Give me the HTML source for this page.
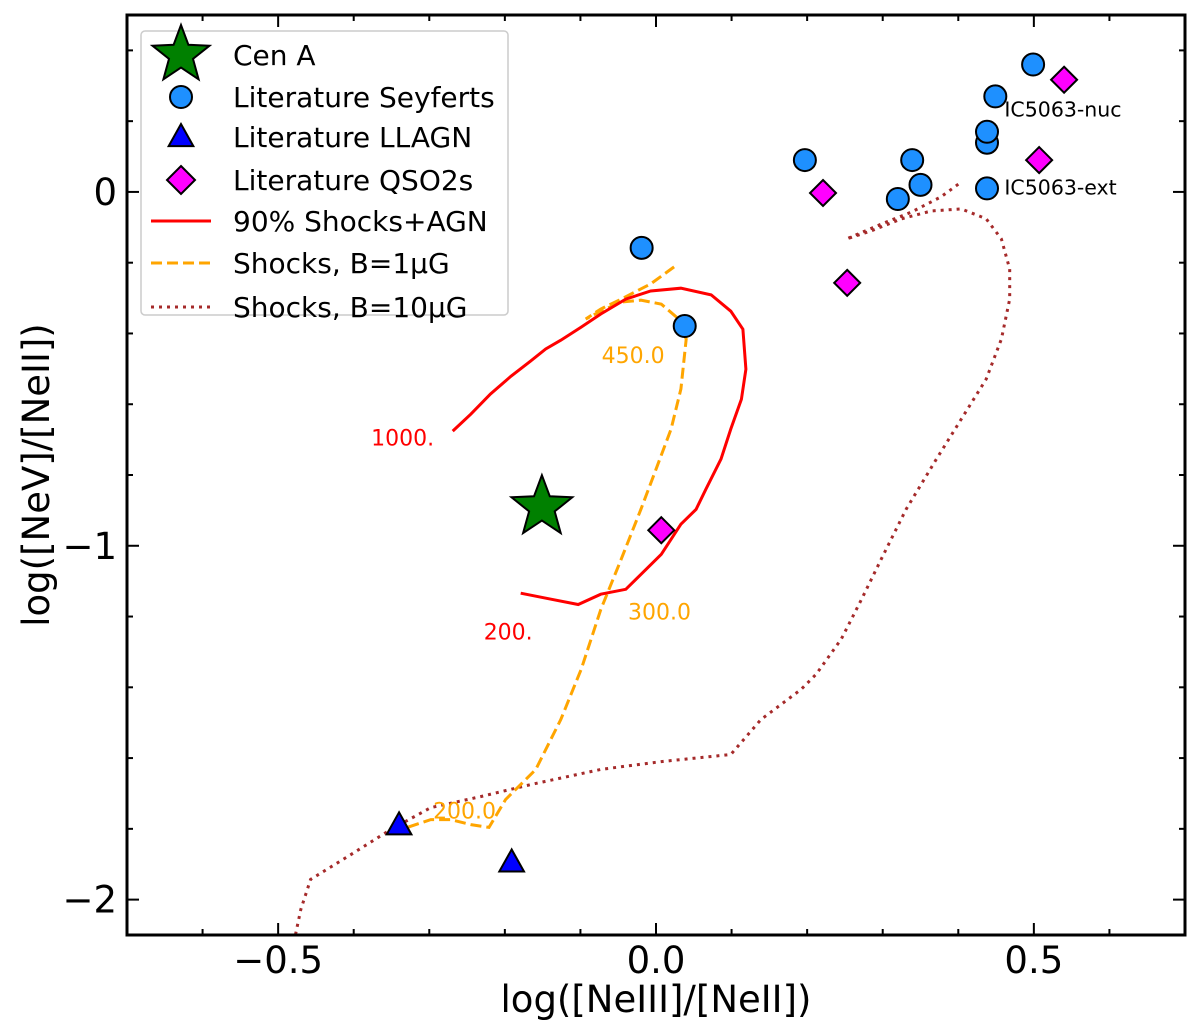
<!DOCTYPE html>
<html><head><meta charset="utf-8"><style>
html,body{margin:0;padding:0;background:#fff;}
svg{display:block;font-family:"DejaVu Sans","Liberation Sans",sans-serif;}
</style></head><body>
<svg id="chart" width="1200" height="1031" viewBox="0 0 1200 1031"></svg>
<script>
const xDomain=[-0.7,0.7], yDomain=[-2.1,0.5];
const xTicks=[-0.5,0.0,0.5], xTickLabels=["\u22120.5","0.0","0.5"];
const yTicks=[0,-1,-2], yTickLabels=["0","\u22121","\u22122"];
const seyfertX=[-0.019,0.038,0.197,0.32,0.339,0.35,0.438,0.438,0.449,0.499,0.438];
const seyfertY=[-0.158,-0.379,0.09,-0.02,0.09,0.02,0.139,0.17,0.27,0.36,0.01];
const qsoX=[0.221,0.253,0.007,0.507,0.54];
const qsoY=[-0.003,-0.257,-0.956,0.09,0.317];
const llagnX=[-0.34,-0.191];
const llagnY=[-1.79,-1.895];
const cenAX=[-0.151], cenAY=[-0.891];
const redX=[-0.269,-0.245,-0.219,-0.192,-0.166,-0.146,-0.126,-0.099,-0.073,-0.040,-0.007,0.033,0.073,0.099,0.115,0.119,0.113,0.099,0.086,0.066,0.053,0.033,0.007,-0.020,-0.040,-0.073,-0.103,-0.139,-0.179];
const redY=[-0.676,-0.628,-0.571,-0.521,-0.478,-0.444,-0.419,-0.382,-0.345,-0.303,-0.280,-0.272,-0.291,-0.337,-0.388,-0.501,-0.586,-0.670,-0.755,-0.840,-0.897,-0.939,-1.024,-1.081,-1.123,-1.137,-1.166,-1.151,-1.134];
const orX=[0.024,-0.007,-0.046,-0.073,-0.093,-0.073,-0.046,-0.020,0.007,0.030,0.040,0.033,0.020,0,-0.020,-0.046,-0.073,-0.099,-0.126,-0.159,-0.199,-0.221,-0.245,-0.272,-0.298,-0.338];
const orY=[-0.212,-0.260,-0.303,-0.331,-0.359,-0.337,-0.311,-0.306,-0.317,-0.359,-0.416,-0.557,-0.670,-0.784,-0.897,-1.038,-1.180,-1.349,-1.491,-1.632,-1.717,-1.796,-1.788,-1.774,-1.774,-1.802];
const brX=[-0.477,-0.470,-0.457,-0.404,-0.351,-0.298,-0.232,-0.166,-0.073,0.007,0.099,0.139,0.192,0.212,0.245,0.272,0.298,0.331,0.371,0.404,0.437,0.457,0.468,0.468,0.457,0.437,0.404,0.364,0.325,0.285,0.252,0.298,0.338,0.377,0.404];
const brY=[-2.099,-2.028,-1.943,-1.873,-1.802,-1.740,-1.709,-1.675,-1.632,-1.610,-1.590,-1.491,-1.406,-1.363,-1.264,-1.151,-1.038,-0.897,-0.755,-0.642,-0.529,-0.416,-0.303,-0.218,-0.133,-0.076,-0.048,-0.054,-0.076,-0.110,-0.133,-0.091,-0.057,-0.014,0.028];
const annText=["1000.","200.","450.0","300.0","200.0","IC5063-nuc","IC5063-ext"];
const annX=[-0.377,-0.228,-0.072,-0.037,-0.295,0.461,0.461];
const annY=[-0.70,-1.248,-0.467,-1.191,-1.754,0.23,0.01];
const annColor=["#ff0000","#ff0000","#ffa500","#ffa500","#ffa500","#000","#000"];
const annSize=[22,22,22,22,22,20.5,20.5];

const L=127,R=1185,T=15,B=935;
const sx=v=>L+(v-xDomain[0])/(xDomain[1]-xDomain[0])*(R-L);
const sy=v=>B-(v-yDomain[0])/(yDomain[1]-yDomain[0])*(B-T);
const svg=document.getElementById('chart');
const NS="http://www.w3.org/2000/svg";
function mk(tag,attrs,parent){const e=document.createElementNS(NS,tag);for(const k in attrs)e.setAttribute(k,attrs[k]);(parent||svg).appendChild(e);return e;}

const defs=mk('defs',{});const cp=mk('clipPath',{id:'pc'},defs);mk('rect',{x:L,y:T,width:R-L,height:B-T},cp);

function line(xs,ys,color,dash,name,w){
  let d=xs.map((x,i)=>(i?'L':'M')+sx(x).toFixed(1)+','+sy(ys[i]).toFixed(1)).join('');
  const p=mk('path',{d:d,fill:'none',stroke:color,'stroke-width':w||3,'stroke-dasharray':dash||'none','clip-path':'url(#pc)'});
  
  
}
line(brX,brY,'#a52a2a','3,5','shocks-b10-line');
line(orX,orY,'#ffa500','11,5','shocks-b1-line');
line(redX,redY,'#ff0000',null,'shocks-agn-line');

function star(cx,cy,r){let pts=[];for(let i=0;i<10;i++){const a=-Math.PI/2+i*Math.PI/5;const rr=i%2?r*0.42:r;pts.push((cx+rr*Math.cos(a)).toFixed(1)+','+(cy+rr*Math.sin(a)).toFixed(1));}return pts.join(' ');}
function tri(cx,cy,s){return `${cx},${cy-s} ${cx-s*0.95},${cy+s*0.7} ${cx+s*0.95},${cy+s*0.7}`;}
function dia(cx,cy,s){return `${cx},${cy-s} ${cx+s},${cy} ${cx},${cy+s} ${cx-s},${cy}`;}

seyfertX.forEach((x,i)=>{const c=mk('circle',{cx:sx(x),cy:sy(seyfertY[i]),r:11,fill:'#1e90ff',stroke:'#000','stroke-width':2});

});
qsoX.forEach((x,i)=>{const c=mk('polygon',{points:dia(sx(x),sy(qsoY[i]),13),fill:'#ff00ff',stroke:'#000','stroke-width':2});

});
llagnX.forEach((x,i)=>{const c=mk('polygon',{points:tri(sx(x),sy(llagnY[i]),13),fill:'#0000ff',stroke:'#000','stroke-width':2});

});
cenAX.forEach((x,i)=>{const c=mk('polygon',{points:star(sx(x),sy(cenAY[i]),32),fill:'#008000',stroke:'#000','stroke-width':2});

});

annText.forEach((t,i)=>{const e=mk('text',{x:sx(annX[i]),y:sy(annY[i]),fill:annColor[i],'font-size':annSize[i],'dominant-baseline':'middle'});e.textContent=t;

});

const fr=mk('rect',{x:L,y:T,width:R-L,height:B-T,fill:'none',stroke:'#000','stroke-width':3});


for(let v=-0.7;v<=0.701;v+=0.1){const X=sx(v);const major=xTicks.some(t=>Math.abs(t-v)<1e-6);const len=major?12:6;
 mk('line',{x1:X,x2:X,y1:B,y2:B-len,stroke:'#000','stroke-width':2});mk('line',{x1:X,x2:X,y1:T,y2:T+len,stroke:'#000','stroke-width':2});}
for(let v=-2.0;v<=0.401;v+=0.2){const Y=sy(v);const major=yTicks.some(t=>Math.abs(t-v)<1e-6);const len=major?12:6;
 mk('line',{x1:L,x2:L+len,y1:Y,y2:Y,stroke:'#000','stroke-width':2});mk('line',{x1:R,x2:R-len,y1:Y,y2:Y,stroke:'#000','stroke-width':2});}
xTicks.forEach((v,i)=>{const e=mk('text',{x:sx(v),y:B+38,'font-size':37,'text-anchor':'middle'});e.textContent=xTickLabels[i];

});
yTicks.forEach((v,i)=>{const e=mk('text',{x:L-10,y:sy(v)+13,'font-size':37,'text-anchor':'end'});e.textContent=yTickLabels[i];

});
const xt=mk('text',{x:(L+R)/2,y:1012,'font-size':37,'text-anchor':'middle'});xt.textContent='log([NeIII]/[NeII])';


const yt=mk('text',{x:0,y:0,'font-size':37,'text-anchor':'middle',transform:`translate(49,${(T+B)/2}) rotate(-90)`});yt.textContent='log([NeV]/[NeII])';



const lg=mk('g',{});


mk('rect',{x:141,y:31,width:367,height:284,rx:4,fill:'#fff',stroke:'#ccc','stroke-width':1.5},lg);
const legText=["Cen A","Literature Seyferts","Literature LLAGN","Literature QSO2s","90% Shocks+AGN","Shocks, B=1\u03bcG","Shocks, B=10\u03bcG"];
const legY=[55,97,137,180,221,263,307];
legText.forEach((t,i)=>{const e=mk('text',{x:233,y:legY[i]+10,'font-size':28},lg);e.textContent=t;

});
mk('polygon',{points:star(181,legY[0],30),fill:'#008000',stroke:'#000','stroke-width':2},lg);
mk('circle',{cx:181,cy:legY[1],r:11,fill:'#1e90ff',stroke:'#000','stroke-width':2},lg);
mk('polygon',{points:tri(181,legY[2],13),fill:'#0000ff',stroke:'#000','stroke-width':2},lg);
mk('polygon',{points:dia(181,legY[3],14),fill:'#ff00ff',stroke:'#000','stroke-width':2},lg);
mk('line',{x1:151,x2:211,y1:legY[4],y2:legY[4],stroke:'#ff0000','stroke-width':3},lg);
mk('line',{x1:151,x2:211,y1:legY[5],y2:legY[5],stroke:'#ffa500','stroke-width':3,'stroke-dasharray':'11,5'},lg);
mk('line',{x1:151,x2:211,y1:legY[6],y2:legY[6],stroke:'#a52a2a','stroke-width':3,'stroke-dasharray':'3,5'},lg);
</script>
</body></html>
